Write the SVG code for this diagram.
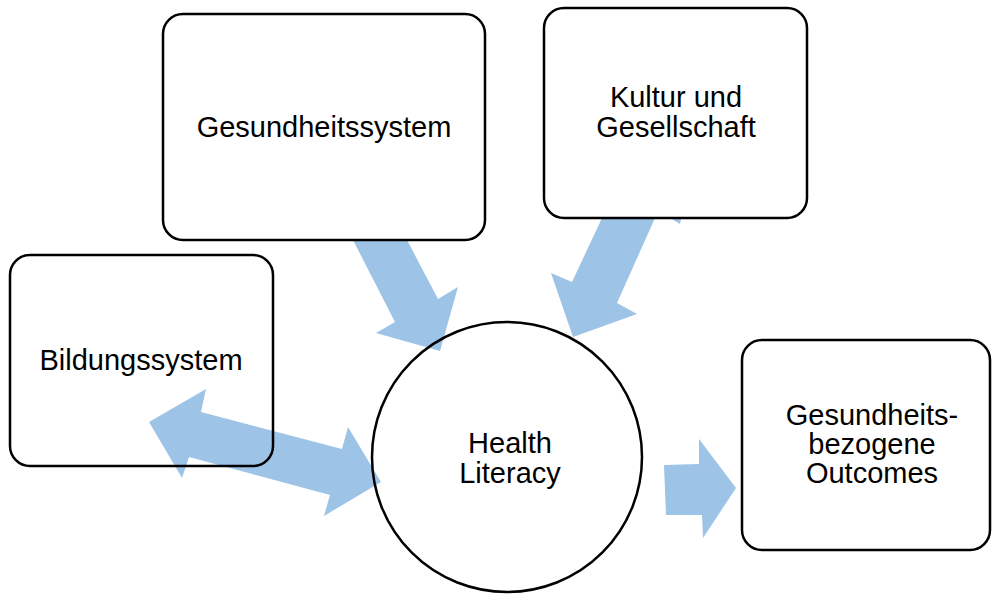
<svg xmlns="http://www.w3.org/2000/svg" width="992" height="596" viewBox="0 0 992 596">
<style>
.arrow{fill:#9DC3E6;stroke:none}
.box{fill:none;stroke:#000;stroke-width:2.5}
.lbl{font-family:"Liberation Sans",Arial,sans-serif;font-size:29px;fill:#000;text-anchor:middle}
</style>
<rect x="0" y="0" width="992" height="596" fill="#fff"/>
<g id="connectors">
<polygon class="arrow" points="353,240 407,240 438,299 458,287 440,351 376,333 395,322"/>
<polygon class="arrow" points="602,218 655,218 617,303 637,314 573,337 551,273 572,282"/>
<polygon class="arrow" points="672,219 681,219 680,224"/>
<polygon class="arrow" points="149,422 206,389 201,412 342,449 348,427 381,482 324,516 330,495 189,457 182,478"/>
<polygon class="arrow" points="664,465 699,464 699,439 736,488 703,538 702,515 666,515"/>
</g>
<g id="gesundheitssystem">
<rect class="box" x="163" y="14" width="322" height="226" rx="20"/>
<text class="lbl" x="324" y="137">Gesundheitssystem</text>
</g>
<g id="kultur">
<rect class="box" x="544" y="8" width="263" height="210" rx="20"/>
<text class="lbl" x="676" y="107">Kultur und</text>
<text class="lbl" x="676" y="137">Gesellschaft</text>
</g>
<g id="bildungssystem">
<rect class="box" x="10" y="255" width="263" height="211" rx="20"/>
<text class="lbl" x="141" y="370">Bildungssystem</text>
</g>
<g id="healthliteracy">
<circle class="box" cx="507" cy="457" r="135"/>
<text class="lbl" x="510" y="453">Health</text>
<text class="lbl" x="510" y="483">Literacy</text>
</g>
<g id="outcomes">
<rect class="box" x="742" y="340" width="248" height="210" rx="20"/>
<text class="lbl" x="872" y="425">Gesundheits-</text>
<text class="lbl" x="872" y="454">bezogene</text>
<text class="lbl" x="872" y="483">Outcomes</text>
</g>
</svg>
